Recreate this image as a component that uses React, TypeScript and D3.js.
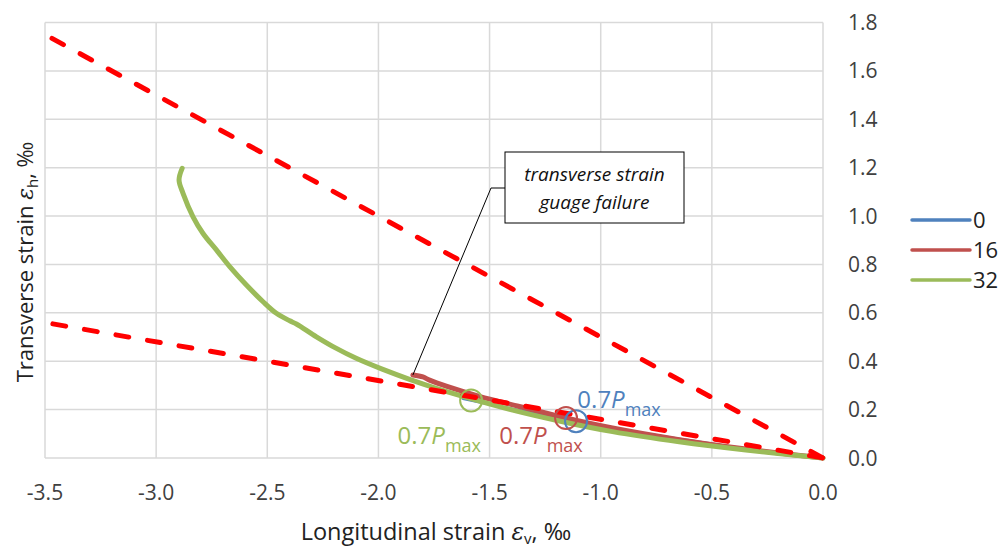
import React from "react";
import * as d3 from "d3";

// Measured strain paths (longitudinal εv, transverse εh), in ‰
const series0: [number, number][] = [
  [-1.62, 0.245], [-1.5, 0.222], [-1.4, 0.204], [-1.25, 0.178], [-1.11, 0.152],
  [-0.95, 0.125], [-0.8, 0.101], [-0.6, 0.073], [-0.4, 0.046], [-0.2, 0.022], [0, 0],
];
const series16: [number, number][] = [
  [-1.845, 0.343], [-1.8, 0.335], [-1.77, 0.322], [-1.695, 0.297], [-1.546, 0.255],
  [-1.366, 0.213], [-1.186, 0.172], [-0.947, 0.124], [-0.647, 0.076], [-0.347, 0.037], [0, 0],
];
const series32: [number, number][] = [
  [-2.883, 1.197], [-2.897, 1.149], [-2.879, 1.094], [-2.834, 0.997], [-2.789, 0.928],
  [-2.729, 0.86], [-2.669, 0.791], [-2.594, 0.715], [-2.519, 0.646], [-2.459, 0.598],
  [-2.399, 0.567], [-2.369, 0.554], [-2.279, 0.501], [-2.189, 0.453], [-2.1, 0.412],
  [-1.98, 0.366], [-1.86, 0.325], [-1.74, 0.288], [-1.59, 0.247], [-1.396, 0.198],
  [-1.171, 0.15], [-0.947, 0.109], [-0.647, 0.067], [-0.347, 0.033], [0, 0],
];

const seriesNames = ["0", "16", "32"];
const seriesColors = ["#4F81BD", "#C0504D", "#9BBB59"];
const seriesWidths = [2.5, 5, 5];
const seriesData = [series0, series16, series32];

// Reference Poisson lines εh = -ν·εv
const refLineNu = [0.5, 0.16];
const refLineStart = -3.5;

// Points at 0.7 Pmax for each series, and where their labels sit
const peakPoints: [number, number][] = [
  [-1.111, 0.152],
  [-1.156, 0.165],
  [-1.583, 0.238],
];
const peakLabelAt: [number, number][] = [
  [-1.105, 0.207],
  [-1.456, 0.058],
  [-1.914, 0.058],
];

const xTicks = [-3.5, -3.0, -2.5, -2.0, -1.5, -1.0, -0.5, 0.0];
const yTicks = [0.0, 0.2, 0.4, 0.6, 0.8, 1.0, 1.2, 1.4, 1.6, 1.8];

const FONT = "'Open Sans', 'Liberation Sans', sans-serif";

export default function App() {
  const width = 1007;
  const height = 551;
  const x = d3.scaleLinear().domain([-3.5, 0]).range([45, 823]);
  const y = d3.scaleLinear().domain([0, 1.8]).range([458, 22.5]);

  const line = d3
    .line<[number, number]>()
    .x((d) => x(d[0]))
    .y((d) => y(d[1]))
    .curve(d3.curveCatmullRom.alpha(0.5));

  const failPt = series16[0];
  const boxX = 505, boxY = 152, boxW = 179, boxH = 71;

  return (
    <svg
      width={width}
      height={height}
      style={{ position: "absolute", left: 0, top: 0, background: "#fff" }}
      fontFamily={FONT}
    >
      {/* grid */}
      <g stroke="#d9d9d9" strokeWidth={1.5}>
        {xTicks.map((t) => (
          <line key={"gx" + t} x1={x(t)} x2={x(t)} y1={y(1.8)} y2={y(0)} />
        ))}
        {yTicks.map((t) => (
          <line key={"gy" + t} x1={x(-3.5)} x2={x(0)} y1={y(t)} y2={y(t)} />
        ))}
      </g>

      {/* tick labels */}
      <g fill="#404040" fontSize={21}>
        {xTicks.map((t) => (
          <text key={"tx" + t} x={x(t)} y={y(0) + 42} textAnchor="middle">
            {t.toFixed(1)}
          </text>
        ))}
        {yTicks.map((t) => (
          <text key={"ty" + t} x={x(0) + 25} y={y(t) + 7.5} textAnchor="start">
            {t.toFixed(1)}
          </text>
        ))}
      </g>

      {/* series */}
      {seriesData.map((s, i) => (
        <path
          key={"s" + i}
          d={line(s) ?? ""}
          fill="none"
          stroke={seriesColors[i]}
          strokeWidth={seriesWidths[i]}
          strokeLinecap="round"
          strokeLinejoin="round"
        />
      ))}

      {/* reference lines */}
      {refLineNu.map((nu, i) => (
        <line
          key={"r" + i}
          x1={x(refLineStart)}
          y1={y(-nu * refLineStart)}
          x2={x(0)}
          y2={y(0)}
          stroke="#FF0000"
          strokeWidth={5}
          strokeDasharray="13 19"
          strokeDashoffset={-8}
          strokeLinecap="round"
        />
      ))}

      {/* 0.7 Pmax markers */}
      {peakPoints.map((p, i) => (
        <circle
          key={"c" + i}
          cx={x(p[0])}
          cy={y(p[1])}
          r={11}
          fill="none"
          stroke={seriesColors[i]}
          strokeWidth={2}
        />
      ))}
      {peakLabelAt.map((p, i) => (
        <text key={"pl" + i} x={x(p[0])} y={y(p[1])} fill={seriesColors[i]} fontSize={24}>
          0.7<tspan fontStyle="italic">P</tspan>
          <tspan fontSize={18} dy={8}>max</tspan>
        </text>
      ))}

      {/* gauge failure callout */}
      <polyline
        points={`${boxX},${boxY + 36} ${boxX - 14},${boxY + 36} ${x(failPt[0])},${y(failPt[1])}`}
        fill="none"
        stroke="#000"
        strokeWidth={1}
      />
      <rect x={boxX} y={boxY} width={boxW} height={boxH} fill="#fff" stroke="#000" strokeWidth={1} />
      <g fontStyle="italic" fontSize={19} textAnchor="middle" fill="#111">
        <text x={boxX + boxW / 2} y={boxY + 29}>transverse strain</text>
        <text x={boxX + boxW / 2} y={boxY + 57}>guage failure</text>
      </g>

      {/* legend */}
      {seriesNames.map((n, i) => (
        <g key={"lg" + i} transform={`translate(912, ${220 + i * 30})`}>
          <line x1={0} x2={58} y1={0} y2={0} stroke={seriesColors[i]} strokeWidth={3.5} strokeLinecap="round" />
          <text x={61} y={8} fontSize={22} fill="#222">{n}</text>
        </g>
      ))}

      {/* axis titles */}
      <text x={436} y={540} textAnchor="middle" fontSize={23.5} fill="#222">
        Longitudinal strain{" "}
        <tspan fontFamily="'DejaVu Serif', serif" fontStyle="italic">ε</tspan>
        <tspan fontSize={15} dy={4}>v</tspan>
        <tspan dy={-4}>, ‰</tspan>
      </text>
      <text
        transform="translate(33, 262) rotate(-90)"
        textAnchor="middle"
        fontSize={22}
        fill="#222"
      >
        Transverse strain{" "}
        <tspan fontFamily="'DejaVu Serif', serif" fontStyle="italic">ε</tspan>
        <tspan fontSize={15} dy={5}>h</tspan>
        <tspan dy={-5}>, ‰</tspan>
      </text>
    </svg>
  );
}
